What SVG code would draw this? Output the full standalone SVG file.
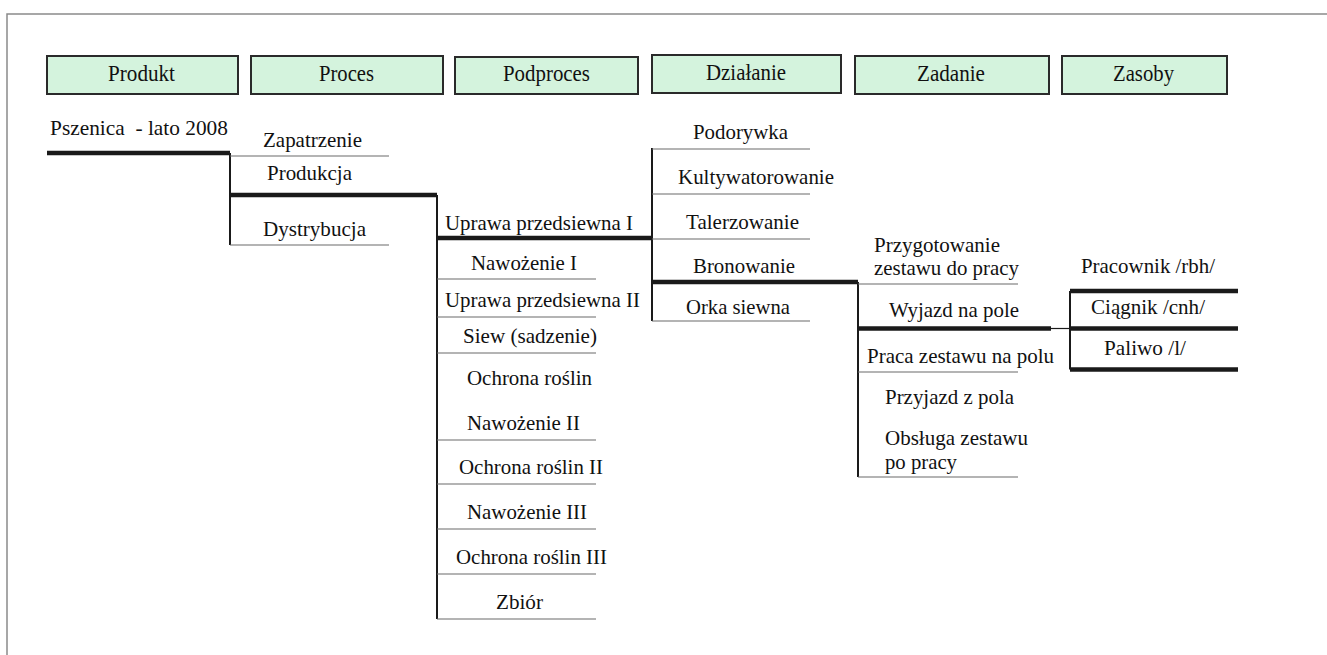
<svg xmlns="http://www.w3.org/2000/svg" width="1327" height="655" viewBox="0 0 1327 655">
<style>
.hb{fill:#d4f3dd;stroke:#2a2a2a;stroke-width:2}
.ht{font-family:'Liberation Serif','DejaVu Serif',serif;font-size:22.5px;fill:#111111}
.t{font-family:'Liberation Serif','DejaVu Serif',serif;font-size:22px;fill:#111111;white-space:pre}
.ul{stroke:#6a6a6a;stroke-width:1.2;fill:none}
.thk{stroke:#1a1a1a;stroke-width:4.5;fill:none}
.v{stroke:#1a1a1a;stroke-width:2;fill:none}
.thin{stroke:#1a1a1a;stroke-width:1.2;fill:none}
.frame{stroke:#8a8a8a;stroke-width:1.5;fill:none}
</style>
<rect width="1327" height="655" fill="#ffffff"/>
<path class="frame" d="M7 655 V14 H1327"/>

<g id="h-produkt"><rect class="hb" x="47" y="56" width="191" height="38"/><text class="ht" x="108" y="81" textLength="67" lengthAdjust="spacingAndGlyphs">Produkt</text></g>
<g id="h-proces"><rect class="hb" x="251" y="56" width="192" height="38"/><text class="ht" x="319" y="81" textLength="55" lengthAdjust="spacingAndGlyphs">Proces</text></g>
<g id="h-podproces"><rect class="hb" x="455" y="57" width="183" height="37"/><text class="ht" x="503" y="81" textLength="87" lengthAdjust="spacingAndGlyphs">Podproces</text></g>
<g id="h-dzialanie"><rect class="hb" x="652" y="55" width="189" height="38"/><text class="ht" x="706" y="80" textLength="80" lengthAdjust="spacingAndGlyphs">Działanie</text></g>
<g id="h-zadanie"><rect class="hb" x="855" y="56" width="194" height="38"/><text class="ht" x="917" y="81" textLength="68" lengthAdjust="spacingAndGlyphs">Zadanie</text></g>
<g id="h-zasoby"><rect class="hb" x="1062" y="56" width="165" height="38"/><text class="ht" x="1113" y="81" textLength="61" lengthAdjust="spacingAndGlyphs">Zasoby</text></g>

<g id="connectors">
<path class="thk" d="M47 153 H230"/>
<path class="thk" d="M230 195 H437"/>
<path class="thk" d="M437 238 H652"/>
<path class="thk" d="M652 282 H858"/>
<path class="thk" d="M858 328.5 H1051"/>
<path class="thk" d="M1070 291 H1238"/>
<path class="thk" d="M1070 328.5 H1238"/>
<path class="thk" d="M1070 369.5 H1238"/>
<path class="thin" d="M1051 328.5 H1070"/>
<path class="v" d="M230 153 V245"/>
<path class="v" d="M437 195 V619"/>
<path class="v" d="M652 148 V321"/>
<path class="v" d="M858 282 V477"/>
<path class="v" d="M1070 291 V369.5"/>
</g>

<g id="n-pszenica"><text class="t" x="50" y="135" textLength="178" lengthAdjust="spacingAndGlyphs">Pszenica  - lato 2008</text></g>

<g id="n-zapatrzenie"><text class="t" x="263" y="147" textLength="99" lengthAdjust="spacingAndGlyphs">Zapatrzenie</text><path class="ul" d="M230 156 H389"/></g>
<g id="n-produkcja"><text class="t" x="267" y="180" textLength="85" lengthAdjust="spacingAndGlyphs">Produkcja</text></g>
<g id="n-dystrybucja"><text class="t" x="263" y="236" textLength="103" lengthAdjust="spacingAndGlyphs">Dystrybucja</text><path class="ul" d="M230 245 H389"/></g>

<g id="n-uprawa1"><text class="t" x="445" y="230" textLength="188" lengthAdjust="spacingAndGlyphs">Uprawa przedsiewna I</text></g>
<g id="n-nawozenie1"><text class="t" x="471" y="270" textLength="106" lengthAdjust="spacingAndGlyphs">Nawożenie I</text><path class="ul" d="M437 279 H596"/></g>
<g id="n-uprawa2"><text class="t" x="445" y="307" textLength="195" lengthAdjust="spacingAndGlyphs">Uprawa przedsiewna II</text><path class="ul" d="M437 317 H596"/></g>
<g id="n-siew"><text class="t" x="463" y="343" textLength="134" lengthAdjust="spacingAndGlyphs">Siew (sadzenie)</text><path class="ul" d="M437 353 H596"/></g>
<g id="n-ochrona1"><text class="t" x="467" y="385" textLength="125" lengthAdjust="spacingAndGlyphs">Ochrona roślin</text></g>
<g id="n-nawozenie2"><text class="t" x="467" y="430" textLength="113" lengthAdjust="spacingAndGlyphs">Nawożenie II</text><path class="ul" d="M437 440 H596"/></g>
<g id="n-ochrona2"><text class="t" x="459" y="474" textLength="144" lengthAdjust="spacingAndGlyphs">Ochrona roślin II</text><path class="ul" d="M437 484 H596"/></g>
<g id="n-nawozenie3"><text class="t" x="467" y="519" textLength="120" lengthAdjust="spacingAndGlyphs">Nawożenie III</text><path class="ul" d="M437 529 H596"/></g>
<g id="n-ochrona3"><text class="t" x="456" y="564" textLength="151" lengthAdjust="spacingAndGlyphs">Ochrona roślin III</text><path class="ul" d="M437 574 H596"/></g>
<g id="n-zbior"><text class="t" x="496" y="609" textLength="47" lengthAdjust="spacingAndGlyphs">Zbiór</text><path class="ul" d="M437 619 H596"/></g>

<g id="n-podorywka"><text class="t" x="693" y="139" textLength="95" lengthAdjust="spacingAndGlyphs">Podorywka</text><path class="ul" d="M652 149 H810"/></g>
<g id="n-kultywatorowanie"><text class="t" x="678" y="184" textLength="156" lengthAdjust="spacingAndGlyphs">Kultywatorowanie</text><path class="ul" d="M652 194 H810"/></g>
<g id="n-talerzowanie"><text class="t" x="686" y="229" textLength="113" lengthAdjust="spacingAndGlyphs">Talerzowanie</text><path class="ul" d="M652 239 H810"/></g>
<g id="n-bronowanie"><text class="t" x="693" y="273" textLength="102" lengthAdjust="spacingAndGlyphs">Bronowanie</text></g>
<g id="n-orka"><text class="t" x="686" y="314" textLength="104" lengthAdjust="spacingAndGlyphs">Orka siewna</text><path class="ul" d="M652 321 H810"/></g>

<g id="n-przygotowanie"><text class="t" x="874" y="252" textLength="126" lengthAdjust="spacingAndGlyphs">Przygotowanie</text><text class="t" x="874" y="275" textLength="145" lengthAdjust="spacingAndGlyphs">zestawu do pracy</text><path class="ul" d="M858 284 H1018"/></g>
<g id="n-wyjazd"><text class="t" x="889" y="317" textLength="130" lengthAdjust="spacingAndGlyphs">Wyjazd na pole</text></g>
<g id="n-praca"><text class="t" x="867" y="363" textLength="187" lengthAdjust="spacingAndGlyphs">Praca zestawu na polu</text><path class="ul" d="M858 372 H1018"/></g>
<g id="n-przyjazd"><text class="t" x="885" y="404" textLength="129" lengthAdjust="spacingAndGlyphs">Przyjazd z pola</text></g>
<g id="n-obsluga"><text class="t" x="885" y="445" textLength="143" lengthAdjust="spacingAndGlyphs">Obsługa zestawu</text><text class="t" x="885" y="469" textLength="72" lengthAdjust="spacingAndGlyphs">po pracy</text><path class="ul" d="M858 477 H1018"/></g>

<g id="n-pracownik"><text class="t" x="1081" y="273" textLength="134" lengthAdjust="spacingAndGlyphs">Pracownik /rbh/</text></g>
<g id="n-ciagnik"><text class="t" x="1091" y="314" textLength="114" lengthAdjust="spacingAndGlyphs">Ciągnik /cnh/</text></g>
<g id="n-paliwo"><text class="t" x="1104" y="355" textLength="82" lengthAdjust="spacingAndGlyphs">Paliwo /l/</text></g>
</svg>
